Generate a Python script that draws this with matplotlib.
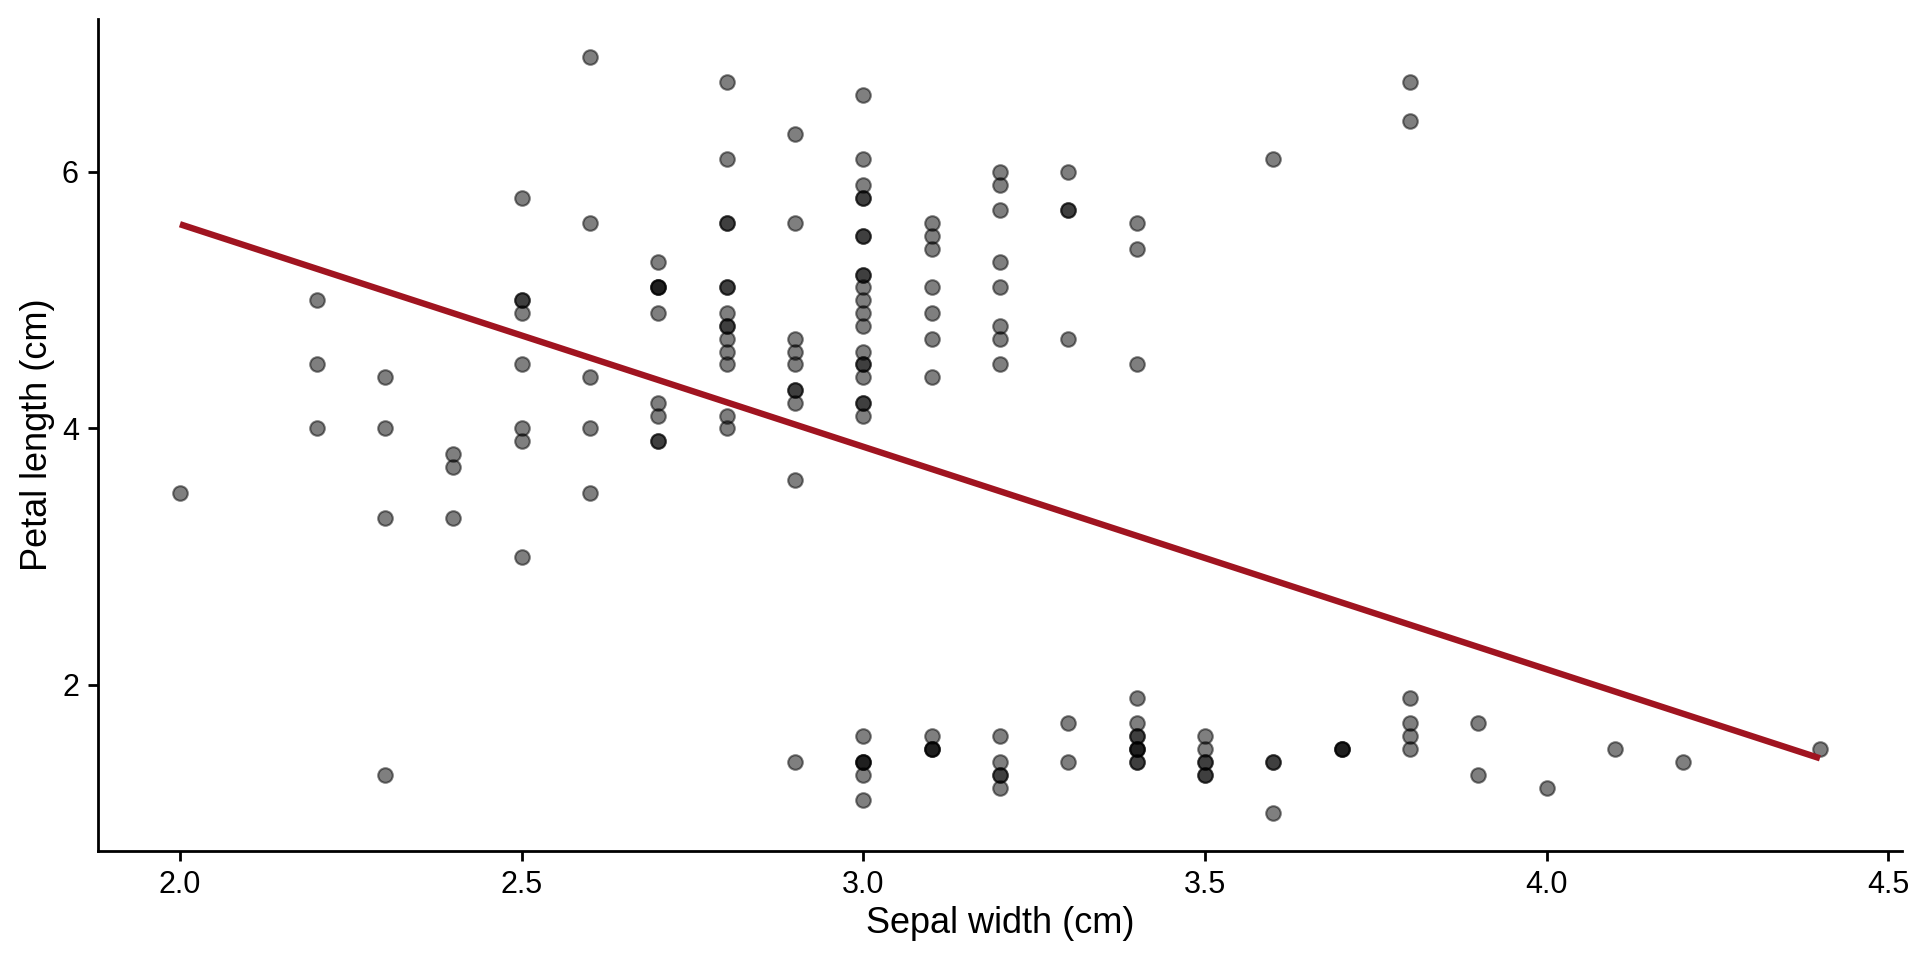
import numpy as np
import matplotlib
matplotlib.use('Agg')
import matplotlib.pyplot as plt

plt.rcParams['font.family'] = ['Liberation Sans', 'DejaVu Sans']

# iris: sepal width and petal length (setosa, versicolor, virginica)
sepal_width = [
    3.5, 3.0, 3.2, 3.1, 3.6, 3.9, 3.4, 3.4, 2.9, 3.1, 3.7, 3.4, 3.0, 3.0, 4.0, 4.4, 3.9, 3.5, 3.8, 3.8,
    3.4, 3.7, 3.6, 3.3, 3.4, 3.0, 3.4, 3.5, 3.4, 3.2, 3.1, 3.4, 4.1, 4.2, 3.1, 3.2, 3.5, 3.6, 3.0, 3.4,
    3.5, 2.3, 3.2, 3.5, 3.8, 3.0, 3.8, 3.2, 3.7, 3.3,
    3.2, 3.2, 3.1, 2.3, 2.8, 2.8, 3.3, 2.4, 2.9, 2.7, 2.0, 3.0, 2.2, 2.9, 2.9, 3.1, 3.0, 2.7, 2.2, 2.5,
    3.2, 2.8, 2.5, 2.8, 2.9, 3.0, 2.8, 3.0, 2.9, 2.6, 2.4, 2.4, 2.7, 2.7, 3.0, 3.4, 3.1, 2.3, 3.0, 2.5,
    2.6, 3.0, 2.6, 2.3, 2.7, 3.0, 2.9, 2.9, 2.5, 2.8,
    3.3, 2.7, 3.0, 2.9, 3.0, 3.0, 2.5, 2.9, 2.5, 3.6, 3.2, 2.7, 3.0, 2.5, 2.8, 3.2, 3.0, 3.8, 2.6, 2.2,
    3.2, 2.8, 2.8, 2.7, 3.3, 3.2, 2.8, 3.0, 2.8, 3.0, 2.8, 3.8, 2.8, 2.8, 2.6, 3.0, 3.4, 3.1, 3.0, 3.1,
    3.1, 3.1, 2.7, 3.2, 3.3, 3.0, 2.5, 3.0, 3.4, 3.0,
]
petal_length = [
    1.4, 1.4, 1.3, 1.5, 1.4, 1.7, 1.4, 1.5, 1.4, 1.5, 1.5, 1.6, 1.4, 1.1, 1.2, 1.5, 1.3, 1.4, 1.7, 1.5,
    1.7, 1.5, 1.0, 1.7, 1.9, 1.6, 1.6, 1.5, 1.4, 1.6, 1.6, 1.5, 1.5, 1.4, 1.5, 1.2, 1.3, 1.4, 1.3, 1.5,
    1.3, 1.3, 1.3, 1.6, 1.9, 1.4, 1.6, 1.4, 1.5, 1.4,
    4.7, 4.5, 4.9, 4.0, 4.6, 4.5, 4.7, 3.3, 4.6, 3.9, 3.5, 4.2, 4.0, 4.7, 3.6, 4.4, 4.5, 4.1, 4.5, 3.9,
    4.8, 4.0, 4.9, 4.7, 4.3, 4.4, 4.8, 5.0, 4.5, 3.5, 3.8, 3.7, 3.9, 5.1, 4.5, 4.5, 4.7, 4.4, 4.1, 4.0,
    4.4, 4.6, 4.0, 3.3, 4.2, 4.2, 4.2, 4.3, 3.0, 4.1,
    6.0, 5.1, 5.9, 5.6, 5.8, 6.6, 4.5, 6.3, 5.8, 6.1, 5.1, 5.3, 5.5, 5.0, 5.1, 5.3, 5.5, 6.7, 6.9, 5.0,
    5.7, 4.9, 6.7, 4.9, 5.7, 6.0, 4.8, 4.9, 5.6, 5.8, 6.1, 6.4, 5.6, 5.1, 5.6, 6.1, 5.6, 5.5, 4.8, 5.4,
    5.6, 5.1, 5.1, 5.9, 5.7, 5.2, 5.0, 5.2, 5.4, 5.1,
]
x_ticks = [2.0, 2.5, 3.0, 3.5, 4.0, 4.5]
y_ticks = [2, 4, 6]

x = np.array(sepal_width)
y = np.array(petal_length)
slope, intercept = np.polyfit(x, y, 1)
x_fit = np.array([x.min(), x.max()])

fig = plt.figure(figsize=(19.2, 9.6), dpi=100)
ax = fig.add_axes([0.051, 0.1135, 0.9396, 0.867])

ax.scatter(x, y, s=110, color='black', alpha=0.5, linewidths=1.5, edgecolors='black', zorder=2)
ax.plot(x_fit, intercept + slope * x_fit, color='#A01420', lw=4.6, solid_capstyle='butt', zorder=3)

# ggplot style 5% expansion
xr = x.max() - x.min()
yr = y.max() - y.min()
ax.set_xlim(x.min() - 0.05 * xr, x.max() + 0.05 * xr)
ax.set_ylim(y.min() - 0.05 * yr, y.max() + 0.05 * yr)
ax.set_xticks(x_ticks)
ax.set_xticklabels([f'{t:.1f}' for t in x_ticks])
ax.set_yticks(y_ticks)

for s in ['top', 'right']:
    ax.spines[s].set_visible(False)
for s in ['left', 'bottom']:
    ax.spines[s].set_linewidth(2.0)
ax.tick_params(axis='both', length=7.2, width=2.0, labelsize=22, pad=6.5, colors='black')

ax.set_xlabel('Sepal width (cm)', fontsize=26, labelpad=4.5)
ax.set_ylabel('Petal length (cm)', fontsize=26, labelpad=5)

fig.savefig('out.png', dpi=100)
